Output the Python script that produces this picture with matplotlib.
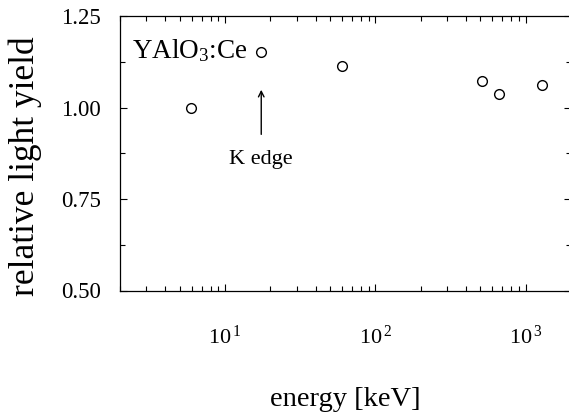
import numpy as np
import matplotlib
matplotlib.use("Agg")
import matplotlib.pyplot as plt
from matplotlib.ticker import LogLocator, MultipleLocator

plt.rcParams["font.family"] = "Liberation Serif"
plt.rcParams["mathtext.fontset"] = "custom"
plt.rcParams["mathtext.rm"] = "Liberation Serif"
plt.rcParams["mathtext.it"] = "Liberation Serif:italic"

# gamma / x-ray energies and light yield relative to 5.9 keV
energy_kev = [5.9, 17.4, 59.5, 511, 662, 1275]
light_yield = [1.00, 1.153, 1.114, 1.073, 1.036, 1.062]

y_ticks = [0.50, 0.75, 1.00, 1.25]
y_tick_labels = ["0.50", "0.75", "1.00", "1.25"]

fig = plt.figure(figsize=(5.69, 4.12), dpi=100)
ax = fig.add_axes([120 / 569, (412 - 290.5) / 412, 451 / 569, 274.5 / 412])

ax.plot(energy_kev, light_yield, "o", mfc="none", mec="black", ms=7, mew=1.0)

ax.set_xscale("log")
ax.set_xlim(2, 2000)
ax.set_ylim(0.50, 1.25)

ax.set_xticks([10, 100, 1000])
ax.set_xticklabels([r"$10^{\,1}$", r"$10^{\,2}$", r"$10^{\,3}$"])
ax.xaxis.set_minor_locator(LogLocator(base=10, subs=np.arange(2, 10), numticks=20))
ax.set_yticks(y_ticks)
ax.set_yticklabels(y_tick_labels)
ax.yaxis.set_minor_locator(MultipleLocator(0.125))

ax.tick_params(which="both", direction="in", top=True, right=True, width=0.8)
ax.tick_params(which="major", length=5)
ax.tick_params(which="minor", length=3.5)
ax.tick_params(axis="y", labelsize=16.5, pad=14)
ax.tick_params(axis="x", labelsize=16, pad=25)
for s in ax.spines.values():
    s.set_linewidth(0.9)

ax.set_xlabel("energy [keV]", fontsize=20.5, va="baseline")
ax.xaxis.set_label_coords(0.5, (291 - 406) / 274.5)
ax.set_ylabel("relative light yield", fontsize=25.5, va="center")
ax.yaxis.set_label_coords((25 - 120) / 451, (291 - 167) / 274.5)

ax.text(0.026, 0.845, "YAlO$_3$:Ce", transform=ax.transAxes, fontsize=19.5,
        ha="left", va="baseline")
ax.annotate("", xy=(17.4, 1.056), xytext=(17.4, 0.919),
            arrowprops=dict(arrowstyle="->", lw=1.0, color="black"))
ax.text(17.4, 0.857, "K edge", fontsize=16, ha="center", va="center")

fig.savefig("out.png", dpi=100)
